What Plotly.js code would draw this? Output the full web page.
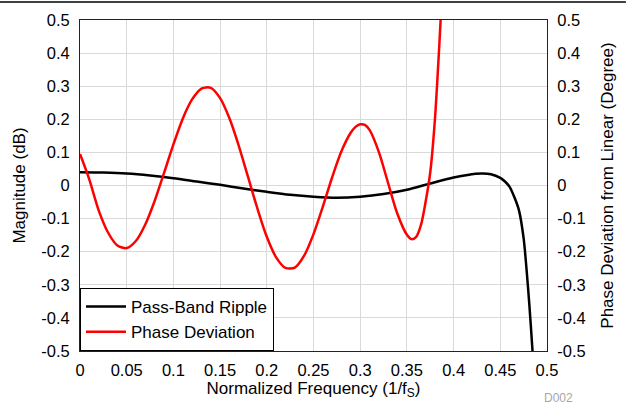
<!DOCTYPE html>
<html>
<head>
<meta charset="utf-8">
<script src="https://cdn.plot.ly/plotly-3.0.1.min.js"></script>
<style>html,body{margin:0;padding:0;background:#fff;}#chart{width:626px;height:406px;}</style>
</head>
<body>
<div id="chart"></div>
<script>
// Pass-Band Ripple (magnitude, dB)
const rippleFreq = [0, 0.025, 0.05, 0.075, 0.1, 0.125, 0.15, 0.175, 0.2, 0.225, 0.25, 0.275, 0.3, 0.325, 0.35, 0.375, 0.4, 0.415, 0.43, 0.44, 0.45, 0.455, 0.46, 0.465, 0.47, 0.475, 0.478, 0.481, 0.4845, 0.486];
const rippleDb = [0.040, 0.039, 0.036, 0.030, 0.022, 0.012, 0.002, -0.009, -0.019, -0.028, -0.034, -0.037, -0.034, -0.026, -0.013, 0.006, 0.024, 0.032, 0.036, 0.034, 0.023, 0.012, -0.004, -0.035, -0.075, -0.16, -0.25, -0.356, -0.5, -0.57];

// Phase Deviation from Linear (degree)
const phaseFreq = [0, 0.01, 0.02, 0.03, 0.04, 0.05, 0.06, 0.07, 0.08, 0.09, 0.10, 0.11, 0.12, 0.13, 0.14, 0.15, 0.16, 0.17, 0.18, 0.19, 0.20, 0.21, 0.22, 0.23, 0.24, 0.25, 0.26, 0.27, 0.28, 0.29, 0.295, 0.30, 0.305, 0.31, 0.32, 0.33, 0.34, 0.35, 0.355, 0.36, 0.365, 0.37, 0.375, 0.38, 0.385, 0.39, 0.40];
const phaseDeg = [0.095, 0.018, -0.075, -0.142, -0.181, -0.189, -0.167, -0.117, -0.046, 0.038, 0.124, 0.202, 0.260, 0.293, 0.295, 0.264, 0.203, 0.120, 0.025, -0.070, -0.155, -0.217, -0.249, -0.248, -0.212, -0.147, -0.064, 0.025, 0.104, 0.160, 0.177, 0.185, 0.183, 0.168, 0.101, 0.006, -0.087, -0.149, -0.162, -0.155, -0.12, -0.05, 0.04, 0.20, 0.44, 0.72, 1.5];

const xTicks = [0, 0.05, 0.1, 0.15, 0.2, 0.25, 0.3, 0.35, 0.4, 0.45, 0.5];
const xTickText = ['0', '0.05', '0.1', '0.15', '0.2', '0.25', '0.3', '0.35', '0.4', '0.45', '0.5'];
const yTicks = [-0.5, -0.4, -0.3, -0.2, -0.1, 0, 0.1, 0.2, 0.3, 0.4, 0.5];
const yTickText = ['-0.5', '-0.4', '-0.3', '-0.2', '-0.1', '0', '0.1', '0.2', '0.3', '0.4', '0.5'];

const FONT = 'Arial, "Liberation Sans", sans-serif';
const TICK = 16.5, TITLE = 17;

const traces = [
  {x: rippleFreq, y: rippleDb, name: 'Pass-Band Ripple', type: 'scatter', mode: 'lines',
   line: {color: '#000000', width: 2.5, shape: 'spline', smoothing: 0.8}, yaxis: 'y'},
  {x: phaseFreq, y: phaseDeg, name: 'Phase Deviation', type: 'scatter', mode: 'lines',
   line: {color: '#ff0000', width: 2.5, shape: 'spline', smoothing: 0.8}, yaxis: 'y2'}
];

const axisCommon = {
  showgrid: true, gridcolor: '#d9d9d9', gridwidth: 1,
  zeroline: false, showline: true, linecolor: '#222222', linewidth: 1,
  ticks: '', tickfont: {family: FONT, size: TICK, color: '#000'}
};

const layout = {
  width: 626, height: 406,
  margin: {l: 80, r: 79, t: 20, b: 55, pad: 0},
  paper_bgcolor: '#ffffff', plot_bgcolor: '#ffffff',
  font: {family: FONT, size: TICK, color: '#000'},
  showlegend: true,
  legend: {x: 0, y: 0, xanchor: 'left', yanchor: 'bottom', bgcolor: '#ffffff',
           bordercolor: '#000000', borderwidth: 1, font: {family: FONT, size: TITLE, color: '#000'},
           tracegroupgap: 0, itemwidth: 40},
  xaxis: Object.assign({}, axisCommon, {range: [0, 0.5], tickvals: xTicks, ticktext: xTickText,
           mirror: true, ticklabelstandoff: 4,
           title: {text: 'Normalized Frequency (1/f<sub>S</sub>)', font: {family: FONT, size: TITLE}, standoff: 2}}),
  yaxis: Object.assign({}, axisCommon, {range: [-0.5, 0.5], tickvals: yTicks, ticktext: yTickText,
           ticklabelstandoff: 6,
           title: {text: 'Magnitude (dB)', font: {family: FONT, size: TITLE}, standoff: 11}}),
  yaxis2: Object.assign({}, axisCommon, {range: [-0.5, 0.5], tickvals: yTicks, ticktext: yTickText,
           overlaying: 'y', side: 'right', showgrid: false, ticklabelstandoff: 6,
           title: {text: 'Phase Deviation from Linear (Degree)', font: {family: FONT, size: TITLE}, standoff: 16}}),
  shapes: [
    {type: 'line', xref: 'paper', yref: 'paper', x0: -0.1713, x1: 1.169, y0: 1.0544, y1: 1.0544,
     line: {color: '#000', width: 1.5}}
  ],
  annotations: [
    {text: 'D002', xref: 'paper', yref: 'paper', x: 1.0236, y: -0.142, xanchor: 'center', yanchor: 'middle',
     showarrow: false, font: {family: FONT, size: 12, color: '#a6a6a6'}}
  ]
};

Plotly.newPlot('chart', traces, layout, {displayModeBar: false, staticPlot: true});
</script>
</body>
</html>
